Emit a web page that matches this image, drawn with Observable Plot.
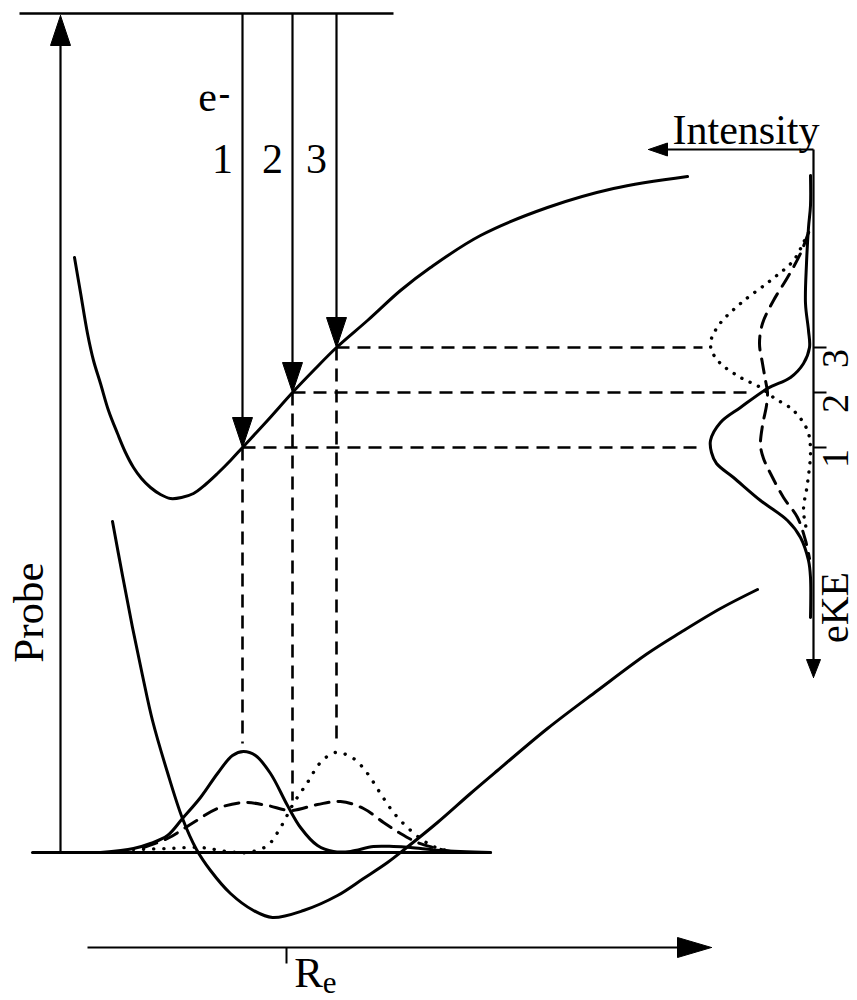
<!DOCTYPE html>
<html><head><meta charset="utf-8">
<script src="https://cdn.jsdelivr.net/npm/d3@7"></script>
<script src="https://cdn.jsdelivr.net/npm/@observablehq/plot@0.6"></script>
<style>body{margin:0;background:#fff}</style>
</head><body><div id="chart"></div>
<script>
// ---- data (figure coordinates: x = R / intensity, y = energy downward) ----
const upperPES = [[74,257],[80,292],[87,333],[93,360],[100,383],[108,410],[117,433],[125,452],[133,467],[141,478],[150,487],[160,494],[170,498],[181,497],[193,493],[205,484],[217,473],[230,460],[242,447],[267,420],[292,392],[314,369],[336,347],[367,320],[400,290],[430,267],[480,235],[547,207],[613,188],[687,176]];
const lowerPES = [[112,521],[122,575],[132,627],[142,675],[152,720],[167,772],[182,818],[196,849],[210,870],[230,893],[253,910],[272,917],[303,910],[337,895],[363,878],[387,862],[405,848],[437,822],[470,793],[497,770],[547,728],[597,690],[647,653],[680,632],[720,608],[757,589]];
const baseline = [[32,852],[490,852]];
const packetSolid = [[100,852],[133,848],[150,843],[167,835],[182,818],[200,797],[217,773],[232,755],[243,751],[255,755],[270,773],[287,805],[300,827],[317,845],[333,851],[350,851],[373,846],[393,846],[410,847],[440,850],[490,852]];
const packetDashed = [[143,847],[167,838],[193,822],[217,808],[243,802],[267,805],[290,810],[317,804],[340,801],[363,808],[383,822],[400,833],[417,842],[433,847],[450,851]];
const packetDotted = [[133,849],[167,848],[200,847],[227,851],[247,852],[267,845],[280,827],[293,803],[307,782],[320,762],[335,752],[353,758],[367,773],[380,793],[393,812],[407,827],[420,838],[433,846],[450,851]];
const specSolid = [[810,175],[810,205],[808,227],[806,263],[805,303],[808,330],[809,347],[803,363],[790,377],[767,388],[740,407],[720,422],[710,440],[711,452],[716,463],[733,477],[760,500],[787,520],[800,537],[808,560],[810,577],[810,617]];
const specDashed = [[808,232],[800,253],[787,277],[773,300],[762,323],[759,343],[762,363],[765,380],[767,392],[766,405],[762,425],[760,445],[763,458],[770,473],[783,497],[797,517],[805,540],[809,558]];
const specDotted = [[808,232],[803,242],[793,260],[770,280],[740,303],[718,325],[710,342],[712,352],[720,363],[740,377],[760,387],[773,397],[793,410],[807,430],[810,450],[807,483],[803,510],[807,533]];

const probeR = [242, 292, 336];          // R of the three probe arrows
const probeE = [447, 392, 347];          // energy where each arrow lands
const probeLabels = ["1", "2", "3"];
const packetTop = [743, 800, 740];       // where vertical dashed lines stop
const spectrumPeak = [700, 748, 702];    // where horizontal dashed lines stop
const topLevelY = 13, topLevelX = [19, 393];
const probeX = 60;
const axisRY = 947, axisRX = [87, 711], ReTick = 286;
const specAxisX = 813, specAxisY = 149, intensityTip = 648, eKETip = 677;

// ---- derived marks data ----
const arrows = [
  {x1: probeX, y1: baseline[0][1], x2: probeX, y2: 15, len: 30, hw: 10},
  ...probeR.map((r, i) => ({x1: r, y1: topLevelY, x2: r, y2: probeE[i], len: 30, hw: 10})),
  {x1: axisRX[0], y1: axisRY, x2: axisRX[1], y2: axisRY, len: 34, hw: 10},
  {x1: specAxisX, y1: specAxisY, x2: intensityTip, y2: specAxisY, len: 19, hw: 6.5},
  {x1: specAxisX, y1: specAxisY, x2: specAxisX, y2: eKETip, len: 18, hw: 7}
];
const heads = [];
const shafts = [];
arrows.forEach((a, i) => {
  const dx = a.x2 - a.x1, dy = a.y2 - a.y1, L = Math.hypot(dx, dy);
  const ux = dx / L, uy = dy / L, bx = a.x2 - ux * a.len, by = a.y2 - uy * a.len;
  heads.push({id: i, x: a.x2, y: a.y2}, {id: i, x: bx - uy * a.hw, y: by + ux * a.hw}, {id: i, x: bx + uy * a.hw, y: by - ux * a.hw}, {id: i, x: a.x2, y: a.y2});
  shafts.push({x1: a.x1, y1: a.y1, x2: bx + ux * 2, y2: by + uy * 2});
});
const vDash = probeR.map((r, i) => ({x1: r, y1: probeE[i], x2: r, y2: packetTop[i]}));
const hDash = probeR.map((r, i) => ({x1: r, y1: probeE[i], x2: spectrumPeak[i], y2: probeE[i]}));
const ticks = probeE.map((e, i) => ({x1: specAxisX, y1: e, x2: specAxisX + 13, y2: e, label: probeLabels[i]}));

const F = "Liberation Serif, Times New Roman, serif";
const P = d => d[0], Q = d => d[1];
const smooth = "catmull-rom";

const chart = Plot.plot({
  width: 857, height: 1000, margin: 0,
  x: {domain: [0, 857], range: [0, 857], axis: null},
  y: {domain: [0, 1000], range: [0, 1000], axis: null},
  style: {fontFamily: F, background: "white", color: "black"},
  marks: [
    Plot.link([{x1: topLevelX[0], x2: topLevelX[1]}], {x1: "x1", x2: "x2", y1: topLevelY, y2: topLevelY, stroke: "black", strokeWidth: 2.6}),
    Plot.link(shafts, {x1: "x1", y1: "y1", x2: "x2", y2: "y2", stroke: "black", strokeWidth: 2.2}),
    Plot.line(heads, {x: "x", y: "y", z: "id", fill: "black", stroke: "black", strokeWidth: 1}),
    Plot.link([{x: ReTick}], {x1: "x", x2: "x", y1: axisRY, y2: axisRY + 16, stroke: "black", strokeWidth: 2}),
    Plot.link(ticks, {x1: "x1", y1: "y1", x2: "x2", y2: "y2", stroke: "black", strokeWidth: 2}),
    Plot.link(vDash, {x1: "x1", y1: "y1", x2: "x2", y2: "y2", stroke: "black", strokeWidth: 2.6, strokeDasharray: "13,8"}),
    Plot.link(hDash, {x1: "x1", y1: "y1", x2: "x2", y2: "y2", stroke: "black", strokeWidth: 2.6, strokeDasharray: "13,8"}),
    Plot.line(upperPES, {x: P, y: Q, curve: smooth, stroke: "black", strokeWidth: 3}),
    Plot.line(lowerPES, {x: P, y: Q, curve: smooth, stroke: "black", strokeWidth: 3}),
    Plot.line(baseline, {x: P, y: Q, stroke: "black", strokeWidth: 3}),
    Plot.line(packetSolid, {x: P, y: Q, curve: smooth, stroke: "black", strokeWidth: 3}),
    Plot.line(packetDashed, {x: P, y: Q, curve: smooth, stroke: "black", strokeWidth: 3, strokeDasharray: "14,9"}),
    Plot.line(packetDotted, {x: P, y: Q, curve: smooth, stroke: "black", strokeWidth: 3.4, strokeDasharray: "0.1,10", strokeLinecap: "round"}),
    Plot.line(specSolid, {x: P, y: Q, curve: smooth, stroke: "black", strokeWidth: 3}),
    Plot.line(specDashed, {x: P, y: Q, curve: smooth, stroke: "black", strokeWidth: 3, strokeDasharray: "14,9"}),
    Plot.line(specDotted, {x: P, y: Q, curve: smooth, stroke: "black", strokeWidth: 3.4, strokeDasharray: "0.1,9", strokeLinecap: "round"}),
    // labels
    Plot.text(probeLabels, {x: (d, i) => probeR[i] - 20, y: 172, text: d => d, fontSize: 42, textAnchor: "middle", lineAnchor: "bottom", fill: "black"}),
    Plot.text(["e"], {x: 207, y: 110, text: d => d, fontSize: 42, textAnchor: "middle", lineAnchor: "bottom", fill: "black"}),
    Plot.text(["-"], {x: 224, y: 104, text: d => d, fontSize: 34, fontWeight: "bold", textAnchor: "middle", lineAnchor: "bottom", fill: "black"}),
    Plot.text(["Probe"], {x: 29, y: 612, text: d => d, fontSize: 43, rotate: -90, textAnchor: "middle", lineAnchor: "middle", fill: "black"}),
    Plot.text(["Intensity"], {x: 819, y: 143, text: d => d, fontSize: 42, textAnchor: "end", lineAnchor: "bottom", fill: "black"}),
    Plot.text(["eKE"], {x: 835, y: 607, text: d => d, fontSize: 40, rotate: -90, textAnchor: "middle", lineAnchor: "middle", fill: "black"}),
    Plot.text(ticks, {x: 835, y: d => d.y1 + 11, text: "label", fontSize: 38, rotate: -90, textAnchor: "middle", lineAnchor: "middle", fill: "black"}),
    Plot.text(["R"], {x: 308, y: 986, text: d => d, fontSize: 43, textAnchor: "middle", lineAnchor: "bottom", fill: "black"}),
    Plot.text(["e"], {x: 329, y: 992, text: d => d, fontSize: 31, textAnchor: "middle", lineAnchor: "bottom", fill: "black"})
  ]
});
document.getElementById("chart").append(chart);
</script>
</body></html>
